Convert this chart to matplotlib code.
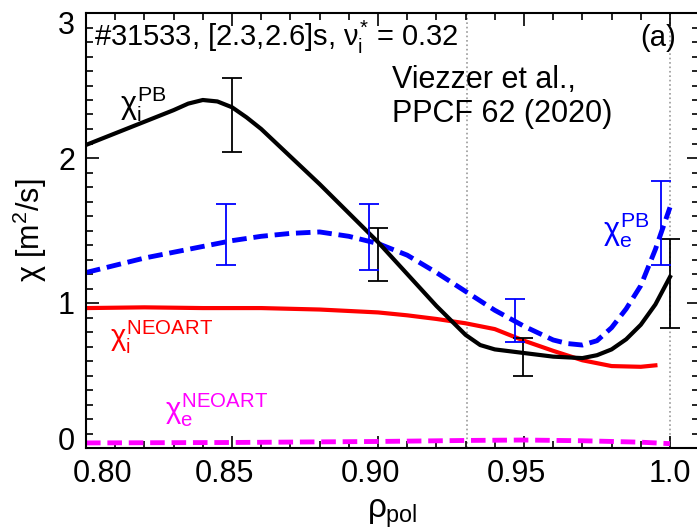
import matplotlib
matplotlib.use('Agg')
import matplotlib.pyplot as plt
from matplotlib.ticker import MultipleLocator, FixedLocator
from matplotlib.transforms import ScaledTranslation
import numpy as np

plt.rcParams['font.family'] = ['Liberation Sans', 'DejaVu Sans']
plt.rcParams['mathtext.fontset'] = 'custom'
plt.rcParams['mathtext.rm'] = 'Liberation Sans'
plt.rcParams['mathtext.it'] = 'Liberation Sans'
plt.rcParams['mathtext.bf'] = 'Liberation Sans:bold'

# chi_i^PB (black)
rho_i_pb = [0.80, 0.81, 0.82, 0.83, 0.835, 0.84, 0.845, 0.85, 0.855, 0.86, 0.87, 0.88, 0.89, 0.90,
            0.91, 0.92, 0.93, 0.935, 0.94, 0.95, 0.96, 0.97, 0.975, 0.98, 0.985, 0.99, 0.995, 1.0]
chi_i_pb = [2.09, 2.17, 2.25, 2.33, 2.375, 2.40, 2.39, 2.35, 2.28, 2.20, 2.01, 1.82, 1.62, 1.42,
            1.20, 0.98, 0.78, 0.71, 0.68, 0.655, 0.63, 0.62, 0.64, 0.68, 0.75, 0.85, 0.99, 1.18]

# chi_e^PB (blue dashed)
rho_e_pb = [0.80, 0.81, 0.82, 0.83, 0.84, 0.85, 0.86, 0.87, 0.88, 0.89, 0.90, 0.91,
            0.92, 0.93, 0.94, 0.95, 0.96, 0.965, 0.97, 0.975, 0.98, 0.985, 0.99, 0.995, 1.0]
chi_e_pb = [1.21, 1.26, 1.31, 1.35, 1.39, 1.43, 1.46, 1.48, 1.49, 1.46, 1.41, 1.33,
            1.21, 1.08, 0.95, 0.84, 0.745, 0.72, 0.71, 0.74, 0.83, 0.96, 1.12, 1.37, 1.66]

# chi_i^NEOART (red)
rho_i_neo = [0.80, 0.82, 0.84, 0.86, 0.88, 0.90, 0.91, 0.92, 0.93, 0.94, 0.945, 0.95, 0.96,
             0.97, 0.98, 0.99, 0.995]
chi_i_neo = [0.965, 0.97, 0.965, 0.965, 0.955, 0.935, 0.915, 0.89, 0.86, 0.82, 0.78, 0.74, 0.67,
             0.605, 0.565, 0.56, 0.57]

# chi_e^NEOART (magenta dashed)
rho_e_neo = [0.80, 0.85, 0.90, 0.93, 0.95, 0.97, 0.99, 1.0]
chi_e_neo = [0.035, 0.038, 0.045, 0.052, 0.055, 0.05, 0.04, 0.03]

# error bars (low, high)
err_i_x = [0.85, 0.90, 0.9497, 1.0]
err_i_lo = [2.04, 1.15, 0.50, 0.83]
err_i_hi = [2.55, 1.52, 0.76, 1.44]
err_e_x = [0.848, 0.897, 0.947, 0.997]
err_e_lo = [1.26, 1.23, 0.73, 1.26]
err_e_hi = [1.68, 1.68, 1.03, 1.84]

vlines_x = [0.9305, 1.0]

xticks = [0.80, 0.85, 0.90, 0.95, 1.0]
xticklabels = ['0.80', '0.85', '0.90', '0.95', '1.0']
yticks = [0, 1, 2, 3]

fig = plt.figure(figsize=(6.97, 5.31), dpi=100)
ax = fig.add_axes([86 / 697, 83 / 531, 613 / 697, 435 / 531])

for xv in vlines_x:
    ax.axvline(xv, color='#999999', linestyle=':', linewidth=1.2, zorder=1)

ax.plot(rho_e_neo, chi_e_neo, color='#ff00ff', linestyle=(0, (3, 1.4)), linewidth=3.5)
ax.plot(rho_i_neo, chi_i_neo, color='#ff0000', linewidth=3)
ax.plot(rho_e_pb, chi_e_pb, color='#0000ff', linestyle=(0, (3, 1.4)), linewidth=3.5)
ax.plot(rho_i_pb, chi_i_pb, color='black', linewidth=3)

lo = np.array(err_i_lo)
hi = np.array(err_i_hi)
ax.errorbar(err_i_x, (lo + hi) / 2, yerr=(hi - lo) / 2, fmt='none', ecolor='black',
            elinewidth=1.3, capsize=7.5, capthick=1.3)
lo = np.array(err_e_lo)
hi = np.array(err_e_hi)
ax.errorbar(err_e_x, (lo + hi) / 2, yerr=(hi - lo) / 2, fmt='none', ecolor='#0000ff',
            elinewidth=1.3, capsize=7.5, capthick=1.3)

ax.set_xlim(0.80, 0.80 + 613 / 2920)
ax.set_ylim(0, 3)

ax.xaxis.set_major_locator(FixedLocator(xticks))
ax.set_xticklabels(xticklabels)
ax.xaxis.set_minor_locator(MultipleLocator(0.01))
ax.yaxis.set_major_locator(FixedLocator(yticks))
ax.yaxis.set_minor_locator(MultipleLocator(0.1))
ax.tick_params(which='both', direction='in', top=True, right=True, labelsize=22, width=1.2)
ax.tick_params(which='major', length=9, pad=8)
ax.tick_params(which='minor', length=5)
for s in ax.spines.values():
    s.set_linewidth(1.5)

# nudge tick labels like the original (IDL-style placement)
fig.canvas.draw()
x_shift = [0.17, -0.08, -0.08, -0.08, 0.0]
for lab, dx in zip(ax.get_xticklabels(), x_shift):
    lab.set_transform(lab.get_transform() + ScaledTranslation(dx, 0, fig.dpi_scale_trans))
yl = ax.get_yticklabels()
yl[0].set_transform(yl[0].get_transform() + ScaledTranslation(0, 0.10, fig.dpi_scale_trans))
yl[-1].set_transform(yl[-1].get_transform() + ScaledTranslation(0, -0.10, fig.dpi_scale_trans))

ax.set_xlabel(r'$\rho_{\mathrm{pol}}$', fontsize=24, labelpad=6)
ax.set_ylabel(r'$\chi$ [m$^2$/s]', fontsize=22, labelpad=6)

ax.text(0.80 + 8 / 2920, 2.83, r'#31533, [2.3,2.6]s, $\nu_i^{*}$ = 0.32', fontsize=21, va='center')
ax.text(0.9897, 2.83, '(a)', fontsize=21, va='center')
ax.text(0.9048, 2.42, 'Viezzer et al.,\nPPCF 62 (2020)', fontsize=22, va='center',
        linespacing=1.2)

ax.text(0.8116, 2.37, r'$\chi_i^{\mathrm{PB}}$', fontsize=22, va='center')
ax.text(0.977, 1.50, r'$\chi_e^{\mathrm{PB}}$', fontsize=22, va='center', color='#0000ff')
ax.text(0.8082, 0.76, r'$\chi_i^{\mathrm{NEOART}}$', fontsize=21, va='center', color='#ff0000')
ax.text(0.827, 0.26, r'$\chi_e^{\mathrm{NEOART}}$', fontsize=21, va='center', color='#ff00ff')

fig.savefig('out.png', dpi=100)
